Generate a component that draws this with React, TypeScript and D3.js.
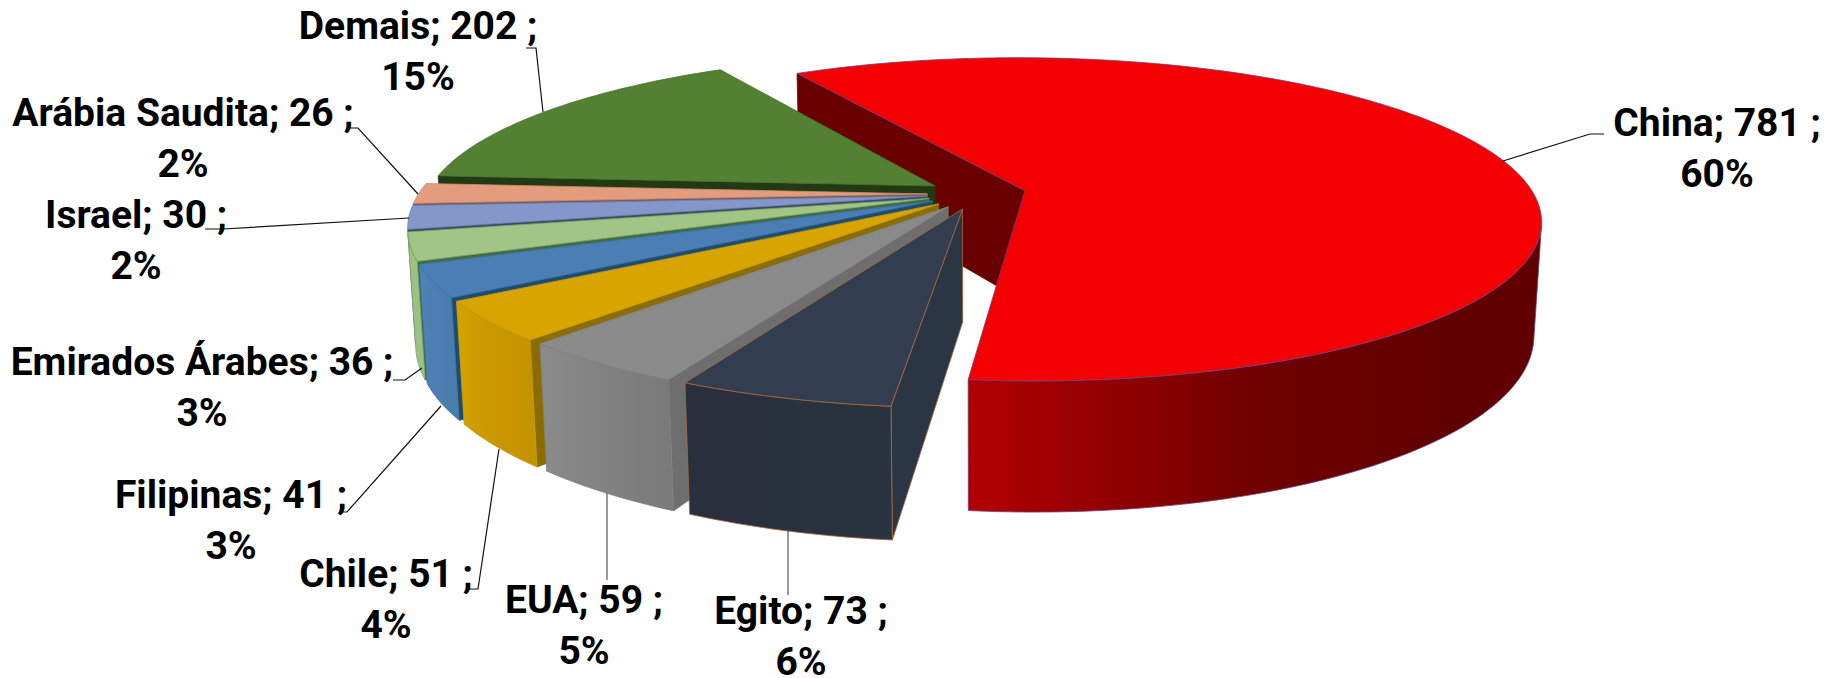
import React from "react";
import * as d3 from "d3";

const categories = ["China", "Egito", "EUA", "Chile", "Filipinas", "Emirados Árabes", "Israel", "Arábia Saudita", "Demais"];
const values = [781, 73, 59, 51, 41, 36, 30, 26, 202];
const percents = ["60%", "6%", "5%", "4%", "3%", "3%", "2%", "2%", "15%"];

const topColors = ["#f40000", "#323e4f", "#8a8a8a", "#d8a400", "#4a7eb5", "#a0c584", "#8497cb", "#e49c7e", "#548033"];
const sideColors = ["#680000", "#2b3645", "#6e6e6e", "#8a6c00", "#1d4c70", "#3f6d40", "#3d4a68", "#7a5a58", "#223a14"];
const edgeColors = ["#6f3f7f", "#a9673f", "#808080", "#c49a10", "#3f6f9f", "#7fa56a", "#6f80aa", "#c98a70", "#4a7030"];
const wallStops: string[][] = [
  ["#600000", "#600000", "#6e0000", "#b20000"],
  ["#2a3340", "#29323f", "#28303d", "#27303c"],
  ["#7a7a7a", "#808080", "#858585", "#8b8b8b"],
  ["#c49400", "#c99800", "#cd9c00", "#d6a200"],
  ["#4b7cae", "#4c7eb1", "#4e80b3", "#5083b6"],
  ["#9cc283", "#9cc283", "#9dc384", "#9ec484"],
  ["#7f90c0", "#7f90c0", "#7f90c0", "#7f90c0"],
  ["#d8937a", "#d8937a", "#d8937a", "#d8937a"],
  ["#4c742e", "#4c742e", "#4c742e", "#4c742e"],
];
const paintOrder = [0, 8, 7, 6, 5, 4, 3, 2, 1];

const labelLayout = [
  { x: 1717, y: 136, leader: [[1503, 161], [1590, 134], [1604, 134]], tone: "#111" },
  { x: 801, y: 624, leader: [[788, 530], [788, 595]], tone: "#555" },
  { x: 584, y: 613, leader: [[607, 493], [607, 580]], tone: "#555" },
  { x: 386, y: 587, leader: [[499, 449], [478, 589], [468, 589]], tone: "#111" },
  { x: 231, y: 508, leader: [[441, 406], [347, 512], [340, 512]], tone: "#111" },
  { x: 202, y: 375, leader: [[422, 368], [405, 380], [393, 380]], tone: "#111" },
  { x: 136, y: 228, leader: [[409, 218], [223, 229], [205, 229]], tone: "#111" },
  { x: 183, y: 126, leader: [[418, 194], [358, 128], [349, 128]], tone: "#111" },
  { x: 418, y: 39, leader: [[543, 112], [536, 48], [526, 48]], tone: "#111" },
];

const WIDTH = 1829;
const HEIGHT = 678;
const X0 = 976.7;
const Y0 = 194;
const DIST = 5.38;
const FOCAL = 2738;
const TILT = (18.05 * Math.PI) / 180;
const THICK = 0.233;
const EXPLODE = 0.097;
const START = (-30.2 * Math.PI) / 180;
const STEP = Math.PI / 180;
const FONT_SIZE = 39;
const LINE_GAP = 51;

type P = [number, number];

function project(X: number, Y: number, Z: number): P {
  const s = Math.sin(TILT);
  const c = Math.cos(TILT);
  const yc = Y * s + Z * c;
  const zc = DIST + Y * c - Z * s;
  return [X0 + (FOCAL * X) / zc, Y0 - (FOCAL * yc) / zc];
}

const line = d3.line<P>();
const wallShade = (stops: string[]) =>
  d3.scaleLinear<string>().domain([0.6, 0.75, 0.87, 1]).range(stops).clamp(true);

const arcs = d3
  .pie<number>()
  .sort(null)
  .startAngle(START)
  .endAngle(START + 2 * Math.PI)(values);

function signedArea(pts: P[]) {
  let a = 0;
  pts.forEach((p, i) => {
    const q = pts[(i + 1) % pts.length];
    a += p[0] * q[1] - q[0] * p[1];
  });
  return a;
}

function Slice({ index }: { index: number }) {
  const arc = arcs[index];
  const mid = (arc.startAngle + arc.endAngle) / 2;
  const ox = EXPLODE * Math.sin(mid);
  const oy = EXPLODE * Math.cos(mid);
  const rim = (a: number, z: number) => project(ox + Math.sin(a), oy + Math.cos(a), z);
  const apexTop = project(ox, oy, 0);
  const apexBot = project(ox, oy, -THICK);
  const n = Math.max(2, Math.ceil((arc.endAngle - arc.startAngle) / STEP));
  const angles = d3.range(n + 1).map((i) => arc.startAngle + ((arc.endAngle - arc.startAngle) * i) / n);
  const topPath = [apexTop, ...angles.map((a) => rim(a, 0))];

  const startWall = [apexTop, rim(arc.startAngle, 0), rim(arc.startAngle, -THICK), apexBot];
  const endWall = [apexTop, rim(arc.endAngle, 0), rim(arc.endAngle, -THICK), apexBot];
  const walls = [signedArea(startWall) < 0 ? startWall : null, signedArea(endWall) > 0 ? endWall : null].filter(Boolean) as P[][];

  const shade = wallShade(wallStops[index]);
  const spanOf = (i: number) =>
    index === 0 ? (angles[i] - arc.startAngle) / (arc.endAngle - arc.startAngle) : 0.6 + 0.4 * (i / n);
  const visible: { a: number; x: number; fill: string }[] = [];
  for (let i = 0; i < n; i++) {
    const pts: P[] = [rim(angles[i], 0), rim(angles[i + 1], 0), rim(angles[i + 1], -THICK), rim(angles[i], -THICK)];
    if (signedArea(pts) < 0) {
      if (!visible.length) visible.push({ a: angles[i], x: pts[0][0], fill: shade(spanOf(i)) });
      visible.push({ a: angles[i + 1], x: pts[1][0], fill: shade(spanOf(i + 1)) });
    }
  }
  const rimAngles = visible.map((v) => v.a);
  const outline: P[] | null = rimAngles.length
    ? [...rimAngles.map((a) => rim(a, 0)), ...[...rimAngles].reverse().map((a) => rim(a, -THICK))]
    : null;
  const xExtent = d3.extent(visible, (v) => v.x) as [number, number];
  const toOffset = d3.scaleLinear().domain(xExtent).range([0, 1]);
  const gradId = `wall-${index}`;

  return (
    <g>
      {walls.map((w, i) => (
        <path key={i} d={line(w) + "Z"} fill={sideColors[index]} stroke={index === 1 ? edgeColors[index] : sideColors[index]} strokeWidth={0.8} />
      ))}
      {outline && (
        <>
          <defs>
            <linearGradient id={gradId} gradientUnits="userSpaceOnUse" x1={xExtent[0]} x2={xExtent[1]} y1={0} y2={0}>
              {[...visible]
                .sort((p, q) => p.x - q.x)
                .map((v, i) => (
                  <stop key={i} offset={toOffset(v.x)} stopColor={v.fill} />
                ))}
            </linearGradient>
          </defs>
          <path d={line(outline) + "Z"} fill={`url(#${gradId})`} stroke={edgeColors[index]} strokeWidth={0.8} />
        </>
      )}
      <path d={line(topPath) + "Z"} fill={topColors[index]} stroke={edgeColors[index]} strokeWidth={0.8} />
    </g>
  );
}

export default function App() {
  return (
    <svg
      width={WIDTH}
      height={HEIGHT}
      viewBox={`0 0 ${WIDTH} ${HEIGHT}`}
      style={{ position: "absolute", left: 0, top: 0, display: "block", background: "#fff" }}
    >
      {paintOrder.map((i) => (
        <Slice key={i} index={i} />
      ))}
      {labelLayout.map((l, i) => (
        <path key={i} d={line(l.leader as P[]) ?? ""} fill="none" stroke={l.tone} strokeWidth={1.2} />
      ))}
      {labelLayout.map((l, i) => (
        <text key={i} textAnchor="middle" fontFamily="Roboto" fontWeight={700} fontSize={FONT_SIZE} fill="#000">
          <tspan x={l.x} y={l.y}>{`${categories[i]}; ${values[i]} ;`}</tspan>
          <tspan x={l.x} y={l.y + LINE_GAP}>{percents[i]}</tspan>
        </text>
      ))}
    </svg>
  );
}
